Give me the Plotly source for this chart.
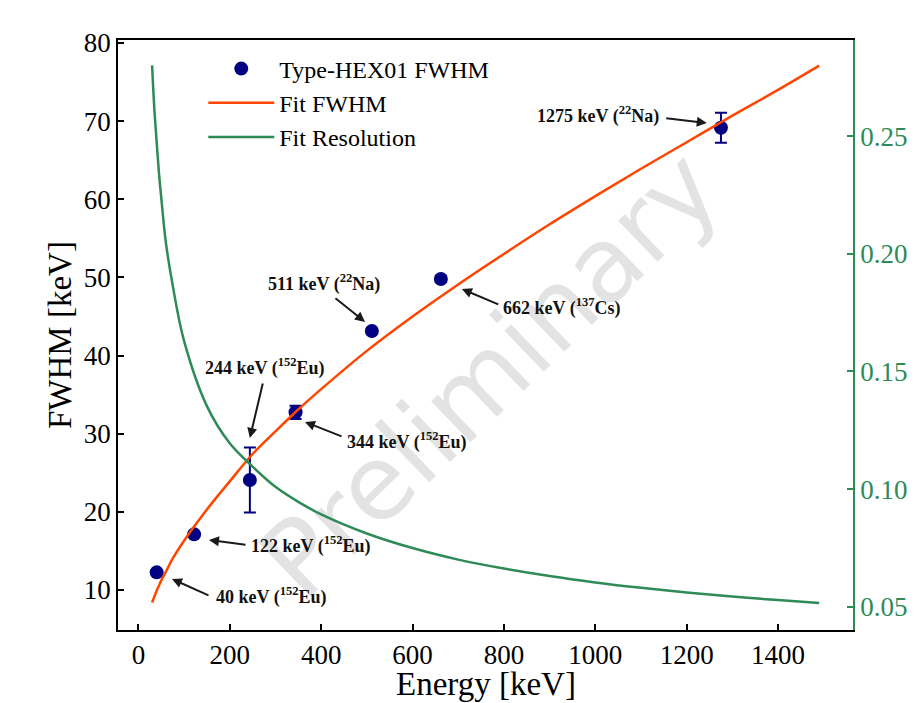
import plotly.graph_objects as go

# ---- data ----
energy = [40, 122, 244, 344, 511, 662, 1275]
fwhm = [12.26, 17.12, 24.07, 32.74, 43.14, 49.80, 69.16]
fwhm_err = [0.3, 0.3, 4.15, 0.85, 0.3, 0.4, 1.92]

fit_energy = [30, 35, 40, 45, 50, 60, 75, 100, 150, 200, 250, 300, 350, 400, 500,
              600, 700, 800, 900, 1000, 1100, 1200, 1300, 1400, 1490]
fit_fwhm = [8.4, 9.15, 9.9, 10.55, 11.2, 12.3, 14.0, 16.3, 20.3, 23.9, 27.4, 30.3, 33.1, 35.7, 40.6,
            45.0, 49.1, 53.0, 56.8, 60.4, 63.9, 67.3, 70.7, 74.0, 77.1]
fit_res = [0.2800, 0.2614, 0.2475, 0.2344, 0.2240, 0.2050, 0.1867, 0.1630, 0.1353, 0.1195, 0.1096,
           0.1010, 0.0946, 0.0893, 0.0812, 0.0750, 0.0701, 0.0663, 0.0631, 0.0604, 0.0581,
           0.0561, 0.0544, 0.0529, 0.0517]

x_ticks = [0, 200, 400, 600, 800, 1000, 1200, 1400]
y_ticks = [10, 20, 30, 40, 50, 60, 70, 80]
y2_ticks = [0.05, 0.10, 0.15, 0.20, 0.25]

# annotation labels: (text, text_x, text_y, tail_x, tail_y, head_x, head_y)
labels = [
    ("1275 keV (<sup>22</sup>Na)", 1005.7, 70.79, 1152, 70.40, 1244, 69.76),
    ("511 keV (<sup>22</sup>Na)", 406, 49.29, 428, 47.49, 496, 44.30),
    ("662 keV (<sup>137</sup>Cs)", 927, 46.21, 791, 46.47, 708, 48.52),
    ("244 keV (<sup>152</sup>Eu)", 277, 38.54, 273, 36.62, 244, 29.45),
    ("344 keV (<sup>152</sup>Eu)", 588, 29.07, 448, 29.58, 364.6, 31.50),
    ("122 keV (<sup>152</sup>Eu)", 378, 15.76, 237.7, 15.76, 154.5, 16.40),
    ("40 keV (<sup>152</sup>Eu)", 292, 9.29, 156.7, 9.23, 73.5, 11.41),
]

NAVY = "#000080"
ORANGE = "#FF4500"
GREEN = "#2E8B57"
SERIF = "Liberation Serif, Times New Roman, serif"

fig = go.Figure()
fig.add_trace(go.Scatter(
    x=energy, y=fwhm, mode="markers", name="Type-HEX01 FWHM",
    marker=dict(color=NAVY, size=14),
    error_y=dict(type="data", array=fwhm_err, color=NAVY, thickness=2, width=6),
    legendgroup="a",
))
fig.add_trace(go.Scatter(
    x=fit_energy, y=fit_fwhm, mode="lines", name="Fit FWHM",
    line=dict(color=ORANGE, width=2.5, shape="spline"), legendgroup="b",
))
fig.add_trace(go.Scatter(
    x=fit_energy, y=fit_res, mode="lines", name="Fit Resolution", yaxis="y2",
    line=dict(color=GREEN, width=2.5, shape="spline"), legendgroup="c",
))

for text, tx, ty, ax_, ay_, hx, hy in labels:
    fig.add_annotation(x=hx, y=hy, ax=ax_, ay=ay_, xref="x", yref="y", axref="x", ayref="y",
                       text="", showarrow=True, arrowhead=2, arrowsize=1, arrowwidth=2,
                       arrowcolor="#1a1a1a")
    fig.add_annotation(x=tx, y=ty, xref="x", yref="y", text="<b>" + text + "</b>",
                       showarrow=False, font=dict(family=SERIF, size=18, color="#111"))

# axis titles
fig.add_annotation(x=0.5, y=-0.06, xref="paper", yref="paper", xanchor="center", yanchor="top",
                   text="Energy [keV]", showarrow=False, borderpad=0,
                   font=dict(family=SERIF, size=33))
fig.add_annotation(x=-0.0789, y=0.5, xref="paper", yref="paper", xanchor="center", yanchor="middle",
                   text="FWHM [keV]", textangle=-90, showarrow=False,
                   font=dict(family=SERIF, size=33))

# watermark below traces
fig.add_shape(type="line", x0=320, y0=13.6, x1=1196, y1=63.0, xref="x", yref="y",
              layer="below", line=dict(color="rgba(0,0,0,0)", width=0),
              label=dict(text="Preliminary", textposition="middle", textangle=-44,
                         yanchor="middle",
                         font=dict(family="DejaVu Sans", size=104, color="rgba(0,0,0,0.11)")))

axis_common = dict(showgrid=False, zeroline=False, ticks="inside", ticklen=6, tickwidth=1.5,
                   showline=True, linewidth=1.5, automargin=False)

fig.update_layout(
    width=915, height=703,
    margin=dict(l=118, r=62, t=40, b=73),
    plot_bgcolor="white", paper_bgcolor="white",
    font=dict(family=SERIF, color="black"),
    xaxis=dict(range=[-44.6, 1564], tickvals=x_ticks, linecolor="black", tickcolor="black",
               mirror=True, tickfont=dict(size=27), **axis_common),
    yaxis=dict(range=[4.88, 80.38], tickvals=y_ticks, linecolor="black", tickcolor="black",
               tickfont=dict(size=27), **axis_common),
    yaxis2=dict(range=[0.0402, 0.2908], tickvals=y2_ticks, tickformat=".2f", overlaying="y",
                side="right", linecolor=GREEN, tickcolor=GREEN,
                tickfont=dict(size=27, color=GREEN), **axis_common),
    showlegend=True,
    legend=dict(x=0.116, y=0.989, xanchor="left", yanchor="top", bgcolor="rgba(0,0,0,0)",
                font=dict(size=24), itemwidth=66, traceorder="grouped", tracegroupgap=0),
)

fig.write_html("out.html", config={"displayModeBar": False},
               post_script="document.body.style.margin='0';document.body.style.padding='0';")
